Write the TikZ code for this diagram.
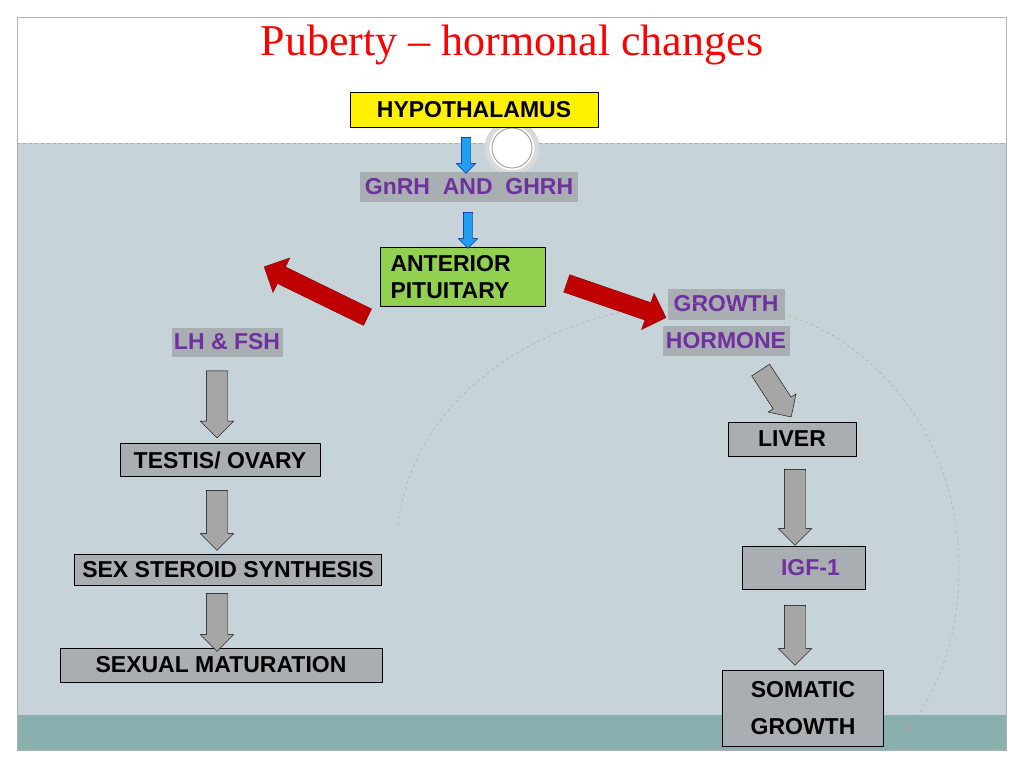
\documentclass[tikz,border=0pt]{standalone}
\usepackage{fontspec}
\setmainfont{Liberation Sans}
\newfontfamily\titlefont{Liberation Serif}
\usepackage{tikz}
\usetikzlibrary{shapes.arrows}
\usetikzlibrary{arrows.meta}
\definecolor{bgblue}{HTML}{C6D4D9}
\definecolor{bandteal}{HTML}{8AAFAF}
\definecolor{labelgray}{HTML}{A9AEB2}
\definecolor{hormonepurple}{HTML}{7030A0}
\definecolor{arrowgray}{HTML}{A6A6A6}
\definecolor{pitgreen}{HTML}{92D050}
\definecolor{arrowred}{HTML}{C00000}
\definecolor{arrowblue}{HTML}{1FA0F0}
\newcommand{\shaftwd}[1]{\rule{0pt}{#1}}

\tikzset{
  box/.style={draw=black, fill=labelgray, font=\fontsize{23}{27}\selectfont\bfseries, inner sep=0pt, align=center},
  hormone/.style={fill=labelgray, text=hormonepurple, font=\fontsize{23}{27}\selectfont\bfseries, inner sep=0pt},
  grayarrow/.style={single arrow, draw=black, fill=arrowgray, single arrow head extend=6pt, inner sep=0pt},
  bluearrow/.style={single arrow, draw=blue!60!black, fill=arrowblue, single arrow head extend=5pt, inner sep=0pt},
  redarrow/.style={single arrow, draw=arrowred!70!black, fill=arrowred, single arrow head extend=10pt, inner sep=0pt}
}

\begin{document}
\begin{tikzpicture}[x=1pt, y=-1pt]
  \useasboundingbox (0,0) rectangle (1024,768);
  % background
  \fill[white] (0,0) rectangle (1024,768);
  \fill[bgblue] (17,143) rectangle (1006,715);
  \fill[bandteal] (17,715) rectangle (1006,750);
  \draw[gray!60] (17,17) rectangle (1006,750);
  \draw[gray!70, dashed] (17,143) -- (1006,143);
  \draw[gray!30, line width=5pt, fill=white] (512,148) circle (25);
  \draw[gray!70, line width=1pt] (512,148) circle (20);

  \node[text=red, font=\titlefont\fontsize{44}{48}\selectfont] (title) at (512,45) {Puberty \textendash{} hormonal changes};

  % nodes
  \node[box, fill=yellow, minimum width=248pt, minimum height=35pt] (hyp) at (474,110) {HYPOTHALAMUS};
  \node[hormone, minimum width=218pt, minimum height=30pt] (gnrh) at (469,187) {GnRH\ \ AND\ \ GHRH};
  \node[box, fill=pitgreen, minimum width=165pt, minimum height=59pt, text width=145pt, align=left] (pit) at (463,277) {ANTERIOR\\PITUITARY};
  \node[hormone, minimum width=117pt, minimum height=31pt] (gh1) at (726,304) {GROWTH};
  \node[hormone, minimum width=127pt, minimum height=30pt] (gh2) at (726,341) {HORMONE};
  \node[hormone, minimum width=111pt, minimum height=29pt] (lhfsh) at (227,342) {LH \& FSH};
  \node[box, minimum width=200pt, minimum height=33pt] (testis) at (220,460) {TESTIS/ OVARY};
  \node[box, minimum width=307pt, minimum height=31pt] (steroid) at (228,570) {SEX STEROID SYNTHESIS};
  \node[box, minimum width=322pt, minimum height=34pt] (sexmat) at (221,665) {SEXUAL MATURATION};
  \node[box, minimum width=128pt, minimum height=34pt] (liver) at (792,439) {LIVER};
  \node[box, text=hormonepurple, minimum width=123pt, minimum height=43pt] (igf) at (804,568) {\ \ IGF-1};
  \node[box, minimum width=161pt, minimum height=76pt, text width=150pt, align=center] (somatic) at (803,708) {SOMATIC\\[10pt]GROWTH};

  % dashed return curve
  \coordinate (arcstart) at (398,525);
  \coordinate (arcend) at (905,732);
  \draw[gray!70, dashed, -{Latex[length=8pt]}] (arcstart) .. controls (420,330) and (700,250) .. (840,340)
    .. controls (990,440) and (980,640) .. (arcend);

  % arrows
  \node[bluearrow, minimum height=36pt, rotate=-90] (b1) at (466,153) {\shaftwd{9pt}};
  \node[bluearrow, minimum height=36pt, rotate=-90] (b2) at (468,228) {\shaftwd{9pt}};
  \node[redarrow, minimum height=115pt, rotate=154] (r1) at (320,294) {\shaftwd{18pt}};
  \node[redarrow, minimum height=105pt, rotate=-19] (r2) at (612,299) {\shaftwd{18pt}};
  \node[grayarrow, minimum height=67pt, rotate=-90] (g1) at (217,399) {\shaftwd{21pt}};
  \node[grayarrow, minimum height=60pt, rotate=-90] (g2) at (217,515) {\shaftwd{21pt}};
  \node[grayarrow, minimum height=58pt, rotate=-90] (g3) at (217,617) {\shaftwd{21pt}};
  \node[grayarrow, minimum height=56pt, rotate=-57] (g4) at (773,389) {\shaftwd{21pt}};
  \node[grayarrow, minimum height=76pt, rotate=-90] (g5) at (795,502) {\shaftwd{21pt}};
  \node[grayarrow, minimum height=60pt, rotate=-90] (g6) at (795,630) {\shaftwd{21pt}};
\end{tikzpicture}
\end{document}
